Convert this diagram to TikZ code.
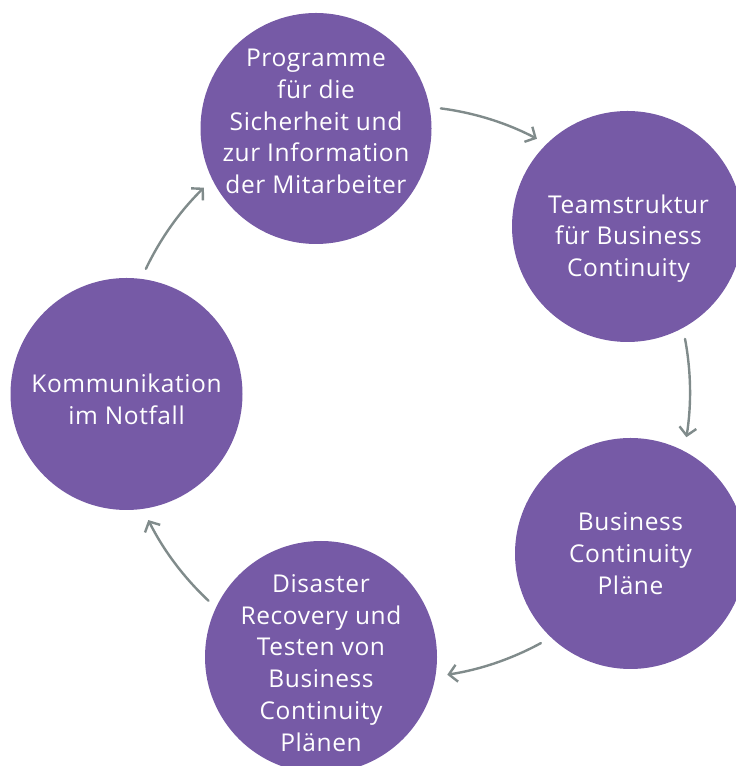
\documentclass[tikz,border=0pt]{standalone}
\usepackage{fontspec}
\setmainfont[LetterSpace=2.5]{Open Sans}
\usetikzlibrary{arrows.meta,calc}
\definecolor{circfill}{HTML}{765AA6}
\definecolor{arrgrey}{HTML}{808B8B}
\tikzset{
  bubble/.style={circle, fill=circfill, draw=none, inner sep=0pt},
  lbl/.style={text=white, align=center, font=\fontsize{24.5}{31.8}\selectfont, inner sep=0pt},
  arr/.style={draw=arrgrey, line width=2.4pt, line cap=round, -{Straight Barb[length=8pt,width=17pt,line width=2.4pt]}}
}
\begin{document}
\begin{tikzpicture}[x=1pt,y=1pt]
\useasboundingbox (0,0) rectangle (736,766);
\clip (0,0) rectangle (736,766);
\fill[white] (0,0) rectangle (736,766);
% circles
\node[bubble, minimum size=231pt] (c1) at (316,637.5) {};
\node[bubble, minimum size=231pt] (c2) at (627.5,539.5) {};
\node[bubble, minimum size=231pt] (c3) at (630.5,212.5) {};
\node[bubble, minimum size=232pt] (c4) at (321,109) {};
\node[bubble, minimum size=232pt] (c5) at (126.5,372) {};
% labels
\node[lbl] (t1) at ($(c1)+(0,7)$) {Programme\\für die\\Sicherheit und\\zur Information\\der Mitarbeiter};
\node[lbl] (t2) at ($(c2)+(1,-12)$) {Teamstruktur\\für Business\\Continuity};
\node[lbl] (t3) at ($(c3)+(0,0)$) {Business\\Continuity\\Pläne};
\node[lbl] (t4) at ($(c4)+(0,-6)$) {Disaster\\Recovery und\\Testen von\\Business\\Continuity\\Plänen};
\node[lbl] (t5) at ($(c5)+(0,-5)$) {Kommunikation\\im Notfall};
% arrows along a big circle
\coordinate (o) at (404,374);
\coordinate (s1) at ($(o)+(82.6:286)$);
\coordinate (s2) at ($(o)+(10.7:286)$);
\coordinate (s3) at ($(o)+(-61.4:286)$);
\coordinate (s4) at ($(o)+(-133.1:286)$);
\coordinate (s5) at ($(o)+(154.5:286)$);
\draw[arr] (s1) arc[start angle=82.6, end angle=62.3, radius=286pt];
\draw[arr] (s2) arc[start angle=10.7, end angle=-9.1, radius=286pt];
\draw[arr] (s3) arc[start angle=-61.4, end angle=-81.3, radius=286pt];
\draw[arr] (s4) arc[start angle=-133.1, end angle=-153.4, radius=286pt];
\draw[arr] (s5) arc[start angle=154.5, end angle=134.4, radius=286pt];
\end{tikzpicture}
\end{document}
